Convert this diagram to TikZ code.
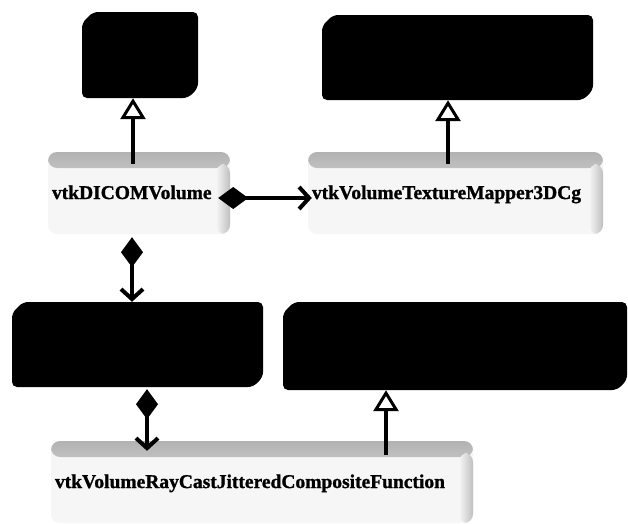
\documentclass[tikz,border=0pt]{standalone}
\usepackage{fontspec}
\setmainfont{Liberation Serif}
\newfontfamily\classfont[FakeBold=1.2]{Liberation Serif Bold}
\usetikzlibrary{arrows.meta}
\begin{document}
\begin{tikzpicture}[x=1pt,y=-1pt,
  % solid dark class box with two cut corners
  darkbox/.style={inner sep=0pt, fill=white,
    path picture={
      \fill[black, rounded corners=5pt]
        ([yshift=-11pt]path picture bounding box.north west)
        -- ([xshift=11pt]path picture bounding box.north west)
        -- (path picture bounding box.north east)
        -- ([yshift=10pt]path picture bounding box.south east)
        -- ([xshift=-10pt]path picture bounding box.south east)
        -- (path picture bounding box.south west) -- cycle;}},
  % pale class box shaded along its top and right side
  classbox/.style={inner xsep=4pt, inner ysep=0pt, align=left,
    minimum height=82pt, fill=gray!7, rounded corners=9pt,
    text height=16pt, text depth=4pt,
    font=\classfont\fontsize{19.5}{22}\selectfont,
    path picture={
      \shade[top color=gray!60, bottom color=gray!7]
        (path picture bounding box.north west)
        rectangle ([yshift=-16pt]path picture bounding box.north east);
      \shade[left color=gray!7, right color=gray!50]
        ([xshift=-14pt,yshift=-12pt]path picture bounding box.north east)
        rectangle (path picture bounding box.south east);}},
  inherit/.style={line width=3.5pt,
    -{Triangle[open, length=21pt, width=25pt, fill=white, line width=3pt]}},
  compose/.style={line width=3.5pt,
    {Diamond[length=30pt, width=22pt]}-{Straight Barb[length=10pt, width=22pt, line width=4pt]}},
]
\clip (0,0) rectangle (628,523);
\useasboundingbox[fill=white] (0,0) rectangle (628,523);

% parent classes
\node[darkbox, minimum width=116pt, minimum height=86pt] (baseA) at (140,55) {};
\node[darkbox, minimum width=271pt, minimum height=85pt] (baseB) at (457.5,57.5) {};
\node[darkbox, minimum width=251pt, minimum height=85pt] (baseC) at (137.5,344.5) {};
\node[darkbox, minimum width=344pt, minimum height=88pt] (baseD) at (455,346) {};

% classes
\node[classbox, text width=174pt] (dicom) at (139,193) {vtkDICOMVolume};
\node[classbox, text width=287pt] (mapper) at (455.5,193) {vtkVolumeTextureMapper3DCg};
\node[classbox, text width=414pt] (jitter) at (262,482) {vtkVolumeRayCastJitteredCompositeFunction};

% inheritance
\draw[inherit] ([xshift=-6pt,yshift=-12pt]dicom.north) -- ([xshift=-7pt]baseA.south);
\draw[inherit] ([xshift=-7.5pt,yshift=-12pt]mapper.north) -- ([xshift=-9.5pt]baseB.south);
\draw[inherit] ([xshift=124pt,yshift=-14pt]jitter.north) -- ([xshift=-69pt]baseD.south);

% composition
\draw[compose] ([xshift=-12pt,yshift=-5pt]dicom.east) -- ([xshift=4pt,yshift=-5pt]mapper.west);
\draw[compose] ([xshift=-7pt,yshift=-3pt]dicom.south) -- ([xshift=-5.5pt]baseC.north);
\draw[compose] ([xshift=9.5pt,yshift=-2pt]baseC.south) -- ([xshift=-115pt,yshift=-10pt]jitter.north);
\end{tikzpicture}
\end{document}
